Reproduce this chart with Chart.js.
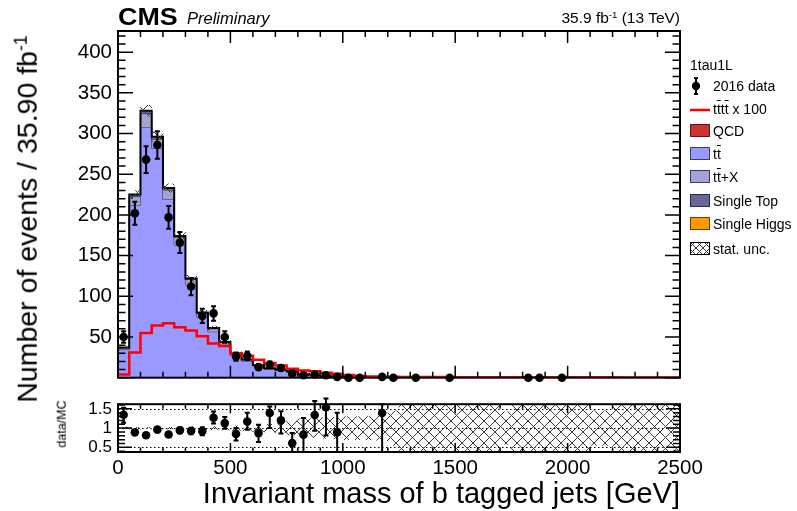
<!DOCTYPE html>
<html>
<head>
<meta charset="utf-8">
<script src="https://cdn.jsdelivr.net/npm/chart.js@4.4.1/dist/chart.umd.min.js"></script>
<style>
  body { margin: 0; background: #fff; font-family: "Liberation Sans", Arial, sans-serif; }
  #wrap { position: relative; width: 797px; height: 511px; overflow: hidden; }
  canvas { position: absolute; left: 0; }
  #main { top: 0; }
  #ratio { top: 388px; }
  .t { position: absolute; white-space: nowrap; color: #000; line-height: 1; }
  .ob { text-decoration: overline; }
  .leg { position: absolute; left: 713px; font-size: 14px; }
  .ico { position: absolute; left: 689px; }
  sup { font-size: 0.62em; vertical-align: 0.55em; line-height: 0; }
</style>
</head>
<body>
<div id="wrap">
  <canvas id="main" width="797" height="396"></canvas>
  <canvas id="ratio" width="797" height="123"></canvas>

  <div class="t" style="left:118px;top:5px;font-size:24px;font-weight:bold;transform:scaleX(1.12);transform-origin:left center;">CMS</div>
  <div class="t" style="left:187px;top:10px;font-size:16.5px;font-style:italic;">Preliminary</div>
  <div class="t" style="right:117px;top:10px;font-size:15.5px;">35.9 fb<sup>-1</sup> (13 TeV)</div>

  <div class="t" style="left:27px;top:219px;font-size:28.5px;transform:translate(-50%,-50%) rotate(-90deg);">Number of events / 35.90 fb<sup>-1</sup></div>
  <div class="t" style="left:62px;top:424px;font-size:12.5px;transform:translate(-50%,-50%) rotate(-90deg);">data/MC</div>
  <div class="t" style="right:117px;top:479px;font-size:29px;">Invariant mass of b tagged jets [GeV]</div>

  <div class="t" style="left:690px;top:58px;font-size:14px;">1tau1L</div>

  <svg class="ico" style="top:76px" width="22" height="20"><line x1="7" y1="2" x2="7" y2="18" stroke="#000" stroke-width="2"/><line x1="5" y1="2" x2="9" y2="2" stroke="#000" stroke-width="2"/><line x1="5" y1="18" x2="9" y2="18" stroke="#000" stroke-width="2"/><circle cx="7" cy="10" r="4.2" fill="#000"/></svg>
  <div class="t leg" style="top:79px">2016 data</div>

  <svg class="ico" style="top:100px" width="22" height="20"><line x1="1" y1="10" x2="21" y2="10" stroke="#ff0000" stroke-width="2.5"/></svg>
  <div class="t leg" style="top:102px">t<span class="ob">t</span>t<span class="ob">t</span> x 100</div>

  <svg class="ico" style="top:123px" width="22" height="16"><rect x="1.5" y="1.5" width="19" height="12" fill="#cc3333" stroke="#5a1515" stroke-width="1"/></svg>
  <div class="t leg" style="top:124px">QCD</div>

  <svg class="ico" style="top:146px" width="22" height="16"><rect x="1.5" y="1.5" width="19" height="12" fill="#9999ff" stroke="#3a3a66" stroke-width="1"/></svg>
  <div class="t leg" style="top:147px">t<span class="ob">t</span></div>

  <svg class="ico" style="top:169px" width="22" height="16"><rect x="1.5" y="1.5" width="19" height="12" fill="#a3a3d6" stroke="#3a3a66" stroke-width="1"/></svg>
  <div class="t leg" style="top:170px">t<span class="ob">t</span>+X</div>

  <svg class="ico" style="top:193px" width="22" height="16"><rect x="1.5" y="1.5" width="19" height="12" fill="#666699" stroke="#2a2a44" stroke-width="1"/></svg>
  <div class="t leg" style="top:194px">Single Top</div>

  <svg class="ico" style="top:216px" width="22" height="16"><rect x="1.5" y="1.5" width="19" height="12" fill="#ff9900" stroke="#6a4000" stroke-width="1"/></svg>
  <div class="t leg" style="top:217px">Single Higgs</div>

  <svg class="ico" style="top:241px" width="22" height="16">
    <defs><pattern id="hp" width="7" height="7" patternUnits="userSpaceOnUse"><path d="M0,0 L7,7 M7,0 L0,7" stroke="#333" stroke-width="1"/></pattern></defs>
    <rect x="1.5" y="1.5" width="19" height="12" fill="url(#hp)" stroke="#000" stroke-width="1"/></svg>
  <div class="t leg" style="top:242px">stat. unc.</div>
</div>

<script>
// 50 GeV bins from 0 to 2500 GeV
const binWidth = 50;
const binLow = Array.from({ length: 50 }, (_, i) => i * binWidth);
const xTicks = [0, 500, 1000, 1500, 2000, 2500];
const yTicks = [50, 100, 150, 200, 250, 300, 350, 400];
const ratioTicks = [0.5, 1, 1.5];

// stacked backgrounds (events per bin)
const ttbar = [
  34.5, 212, 307.5, 282, 219, 163, 114, 74.5, 56.5, 40.5,
  27.5, 20.6, 14.2, 10.6, 9.2, 7.3, 4.1, 2.9, 2.0, 1.36,
  1.1, 0.92, 0.82, 0.69, 0.55, 0.5, 0.46, 0.41, 0.37, 0.35,
  0.32, 0.28, 0.28, 0.26, 0.23, 0.2, 0.18, 0.18, 0.17, 0.14,
  0.14, 0.11, 0.11, 0.09, 0.09, 0.07, 0.07, 0.06, 0.05, 0.05
];
const ttX = [
  1.9, 10.7, 17, 11.2, 11.7, 9.2, 6.6, 4.6, 3.7, 2.9,
  2.1, 1.6, 1.05, 0.75, 0.65, 0.55, 0.32, 0.24, 0.16, 0.1,
  0.08, 0.07, 0.07, 0.05, 0.04, 0.04, 0.04, 0.03, 0.03, 0.03,
  0.03, 0.02, 0.02, 0.02, 0.02, 0.02, 0.02, 0.02, 0.01, 0.01,
  0.01, 0.01, 0.01, 0.01, 0.01, 0.01, 0.01, 0.01, 0.01, 0.01
];
const singleTop = [
  0.6, 2.3, 3.5, 2.8, 2.3, 1.8, 1.4, 0.9, 0.8, 0.6,
  0.4, 0.3, 0.25, 0.15, 0.15, 0.15, 0.08, 0.06, 0.04, 0.04,
  0.02, 0.02, 0.02, 0.02, 0.02, 0.02, 0.02, 0.02, 0.02, 0.02,
  0, 0, 0, 0, 0, 0, 0, 0, 0, 0,
  0, 0, 0, 0, 0, 0, 0, 0, 0, 0
];
// relative stat. uncertainty of the MC sum
const statRel = [
  0.03, 0.022, 0.02, 0.02, 0.022, 0.026, 0.03, 0.036, 0.04, 0.05,
  0.06, 0.07, 0.085, 0.1, 0.11, 0.18, 0.24, 0.25, 0.27, 0.28,
  0.3, 0.3, 0.3, 0.32, 0.45, 2, 2, 2, 2, 2,
  2, 2, 2, 2, 0.42, 2, 2, 2, 2, 2,
  2, 2, 0.45, 0.45, 2, 2, 2, 2, 2, 2
];
// tttt signal x 100
const signal = [
  4, 31, 55, 64, 67, 62, 58, 51, 42, 39,
  30, 27, 22, 18, 15, 11, 9, 8, 6, 5,
  3.4, 2.2, 1.6, 1.3, 1.1, 1.0, 0.9, 0.9, 0.8, 0.8,
  0.7, 0.7, 0.6, 0.6, 0.6, 0.5, 0.5, 0.5, 0.5, 0.4,
  0.4, 0.4, 0.4, 0.4, 0.3, 0.3, 0.3, 0.3, 0.3, 0.3
];
// 2016 data (null = no marker drawn)
const dataCounts = [
  50, 202, 268, 286, 197, 166, 112, 76, 79, 50,
  26, 27, 13, 16, 12, 5, 3, 4, 3, 1,
  0, 0, null, 1, 0, null, 0, null, null, 0,
  null, null, null, null, null, null, 0, 0, null, 0,
  null, null, null, null, null, null, null, null, null, null
];
const dataErr = [
  7.1, 14.2, 16.4, 16.9, 14.0, 12.9, 10.6, 8.7, 8.9, 7.1,
  5.1, 5.2, 3.6, 4.0, 3.5, 2.2, 1.7, 2.0, 1.7, 1.0
];
// data / MC
const ratioVal = [
  1.345, 0.89, 0.815, 0.96, 0.835, 0.94, 0.925, 0.92, 1.27, 1.13,
  0.85, 1.17, 0.87, 1.39, 1.2, 0.61, 0.83, 1.34, 1.54, 0.89,
  null, null, null, 1.39
];
const ratioLo = [
  1.14, 0.827, 0.765, 0.903, 0.775, 0.867, 0.838, 0.815, 1.12, 0.98,
  0.68, 0.96, 0.64, 1.0, 0.86, 0.3, 0.3, 0.93, 0.81, 0.3,
  null, null, null, 0.3
];
const ratioHi = [
  1.53, 0.953, 0.865, 1.017, 0.895, 1.013, 1.012, 1.025, 1.43, 1.29,
  1.0, 1.4, 1.09, 1.56, 1.44, 0.87, 1.26, 1.7, 1.77, 1.4,
  null, null, null, 1.62
];

Chart.defaults.font.family = '"Liberation Sans", Arial, sans-serif';
Chart.defaults.color = '#000';

const cumTtX = ttbar.map((v, i) => v + ttX[i]);
const total = cumTtX.map((v, i) => v + singleTop[i]);
const xMax = binLow[binLow.length - 1] + binWidth;

function steps(vals) {
  return binLow.map((lo, i) => ({ x: lo, y: vals[i] }))
    .concat([{ x: xMax, y: vals[vals.length - 1] }]);
}
function centres(vals) {
  return binLow.map((lo, i) => ({ x: lo + binWidth / 2, y: vals[i] === undefined ? null : vals[i] }));
}

function makeHatch(ctx) {
  const s = 11;
  const c = document.createElement('canvas');
  c.width = s; c.height = s;
  const g = c.getContext('2d');
  g.strokeStyle = '#3c3c3c';
  g.lineWidth = 1;
  g.beginPath();
  for (const o of [-s, 0, s]) {
    g.moveTo(o, 0); g.lineTo(o + s, s);
    g.moveTo(o, s); g.lineTo(o + s, 0);
  }
  g.stroke();
  return ctx.createPattern(c, 'repeat');
}

// frame with ROOT style inside ticks on all four sides
const frameTicks = {
  id: 'frameTicks',
  afterDatasetsDraw(chart, args, o) {
    const { ctx, chartArea: a, scales: { x, y } } = chart;
    ctx.save();
    ctx.strokeStyle = '#000';
    ctx.lineWidth = 1.5;
    ctx.beginPath();
    const nx = Math.round((x.max - x.min) / o.xMinor);
    for (let k = 0; k <= nx; k++) {
      const v = x.min + k * o.xMinor;
      const px = x.getPixelForValue(v);
      const len = Math.abs(v / o.xMajor - Math.round(v / o.xMajor)) < 1e-6 ? o.xLen : o.xLen / 2;
      ctx.moveTo(px, a.bottom); ctx.lineTo(px, a.bottom - len);
      ctx.moveTo(px, a.top); ctx.lineTo(px, a.top + len);
    }
    const y0 = Math.ceil(y.min / o.yMinor - 1e-6) * o.yMinor;
    for (let k = 0; y0 + k * o.yMinor <= y.max + 1e-9; k++) {
      const v = y0 + k * o.yMinor;
      const py = y.getPixelForValue(v);
      const len = Math.abs(v / o.yMajor - Math.round(v / o.yMajor)) < 1e-6 ? o.yLen : o.yLen / 2;
      ctx.moveTo(a.left, py); ctx.lineTo(a.left + len, py);
      ctx.moveTo(a.right, py); ctx.lineTo(a.right - len, py);
    }
    ctx.stroke();
    ctx.lineWidth = 2;
    ctx.strokeRect(a.left, a.top, a.right - a.left, a.bottom - a.top);
    ctx.restore();
  }
};

// vertical error bars with small end caps
const errorBars = {
  id: 'errorBars',
  afterDatasetsDraw(chart) {
    const { ctx, chartArea: a, scales: { y } } = chart;
    chart.data.datasets.forEach((ds, di) => {
      if (!ds.errLow) return;
      const meta = chart.getDatasetMeta(di);
      ctx.save();
      ctx.strokeStyle = '#000';
      ctx.lineWidth = 2;
      ctx.beginPath();
      meta.data.forEach((pt, i) => {
        if (ds.data[i].y == null || ds.errLow[i] == null) return;
        const y1 = Math.min(y.getPixelForValue(ds.errLow[i]), a.bottom);
        const y2 = Math.max(y.getPixelForValue(ds.errHigh[i]), 0);
        ctx.moveTo(pt.x, y1); ctx.lineTo(pt.x, y2);
        if (y1 < a.bottom) { ctx.moveTo(pt.x - 2.5, y1); ctx.lineTo(pt.x + 2.5, y1); }
        if (y2 > 0) { ctx.moveTo(pt.x - 2.5, y2); ctx.lineTo(pt.x + 2.5, y2); }
      });
      ctx.stroke();
      ctx.restore();
    });
  }
};

const refLines = {
  id: 'refLines',
  beforeDatasetsDraw(chart, args, o) {
    const { ctx, chartArea: a, scales: { y } } = chart;
    ctx.save();
    ctx.strokeStyle = '#000';
    ctx.lineWidth = 1;
    ctx.setLineDash([1.5, 2.5]);
    ctx.beginPath();
    o.values.forEach(v => {
      const py = Math.round(y.getPixelForValue(v)) + 0.5;
      ctx.moveTo(a.left, py); ctx.lineTo(a.right, py);
    });
    ctx.stroke();
    ctx.restore();
  }
};

const mainCanvas = document.getElementById('main');
const ratioCanvas = document.getElementById('ratio');
const hatchMain = makeHatch(mainCanvas.getContext('2d'));
const hatchRatio = makeHatch(ratioCanvas.getContext('2d'));

const dataErrLow = dataCounts.map((v, i) => (v && dataErr[i] != null ? v - dataErr[i] : null));
const dataErrHigh = dataCounts.map((v, i) => (v && dataErr[i] != null ? v + dataErr[i] : null));

new Chart(mainCanvas, {
  type: 'line',
  data: {
    datasets: [
      { label: '2016 data', data: centres(dataCounts), showLine: false, pointRadius: 4.3,
        pointBackgroundColor: '#000', pointBorderWidth: 0, order: 1, clip: false,
        errLow: dataErrLow, errHigh: dataErrHigh },
      { label: 'tttt x 100', data: steps(signal), stepped: true, borderColor: '#ff0000',
        borderWidth: 2.5, pointRadius: 0, fill: false, order: 2 },
      { type: 'bar', label: 'stat. unc.', order: 3, clip: 0,
        data: binLow.map((lo, i) => ({ x: lo + binWidth / 2,
          y: [Math.max(0, total[i] * (1 - statRel[i])), total[i] * (1 + statRel[i])] })),
        backgroundColor: hatchMain, borderWidth: 0, barPercentage: 1, categoryPercentage: 1 },
      { label: 'Single Top', data: steps(total), stepped: true, borderColor: '#000', borderWidth: 2,
        backgroundColor: '#666699', fill: '+1', pointRadius: 0, order: 4 },
      { label: 'ttX', data: steps(cumTtX), stepped: true, borderColor: '#222', borderWidth: 1,
        backgroundColor: '#a3a3d6', fill: '+1', pointRadius: 0, order: 5 },
      { label: 'tt', data: steps(ttbar), stepped: true, borderColor: '#222', borderWidth: 1,
        backgroundColor: '#9999ff', fill: 'origin', pointRadius: 0, order: 6 }
    ]
  },
  options: {
    responsive: false, animation: false, events: [],
    layout: { padding: { left: 0, right: 117, top: 31, bottom: 9 } },
    plugins: {
      legend: { display: false }, tooltip: { enabled: false },
      frameTicks: { xMajor: 500, xMinor: 100, xLen: 12, yMajor: 50, yMinor: 10, yLen: 15 }
    },
    scales: {
      x: { type: 'linear', display: false, min: 0, max: xMax, offset: false },
      y: {
        min: 0, max: 426,
        afterBuildTicks: s => { s.ticks = yTicks.map(v => ({ value: v })); },
        afterFit: s => { s.width = 118; },
        grid: { display: false, drawTicks: false }, border: { display: false },
        ticks: { font: { size: 20.5 }, color: '#000', padding: 6, callback: v => String(v) }
      }
    }
  },
  plugins: [frameTicks, errorBars]
});

new Chart(ratioCanvas, {
  type: 'line',
  data: {
    datasets: [
      { label: 'data/MC', data: centres(ratioVal), showLine: false, pointRadius: 4.3,
        pointBackgroundColor: '#000', pointBorderWidth: 0, order: 1, clip: false,
        errLow: ratioLo, errHigh: ratioHi },
      { type: 'bar', label: 'stat. unc.', order: 2, clip: 0,
        data: binLow.map((lo, i) => ({ x: lo + binWidth / 2, y: [1 - statRel[i], 1 + statRel[i]] })),
        backgroundColor: hatchRatio, borderWidth: 0, barPercentage: 1, categoryPercentage: 1 }
    ]
  },
  options: {
    responsive: false, animation: false, events: [],
    layout: { padding: { left: 0, right: 117, top: 9, bottom: 0 } },
    plugins: {
      legend: { display: false }, tooltip: { enabled: false },
      refLines: { values: ratioTicks },
      frameTicks: { xMajor: 500, xMinor: 100, xLen: 9, yMajor: 0.5, yMinor: 0.1, yLen: 14 }
    },
    scales: {
      x: {
        type: 'linear', min: 0, max: xMax, offset: false,
        afterBuildTicks: s => { s.ticks = xTicks.map(v => ({ value: v })); },
        afterFit: s => { s.height = 59; },
        grid: { display: false, drawTicks: false }, border: { display: false },
        ticks: { font: { size: 20.5 }, color: '#000', padding: 4, maxRotation: 0, callback: v => String(v) }
      },
      y: {
        min: 0.38, max: 1.62,
        afterBuildTicks: s => { s.ticks = ratioTicks.map(v => ({ value: v })); },
        afterFit: s => { s.width = 118; },
        grid: { display: false, drawTicks: false }, border: { display: false },
        ticks: { font: { size: 17 }, color: '#000', padding: 6, callback: v => String(v) }
      }
    }
  },
  plugins: [refLines, frameTicks, errorBars]
});
</script>
</body>
</html>
